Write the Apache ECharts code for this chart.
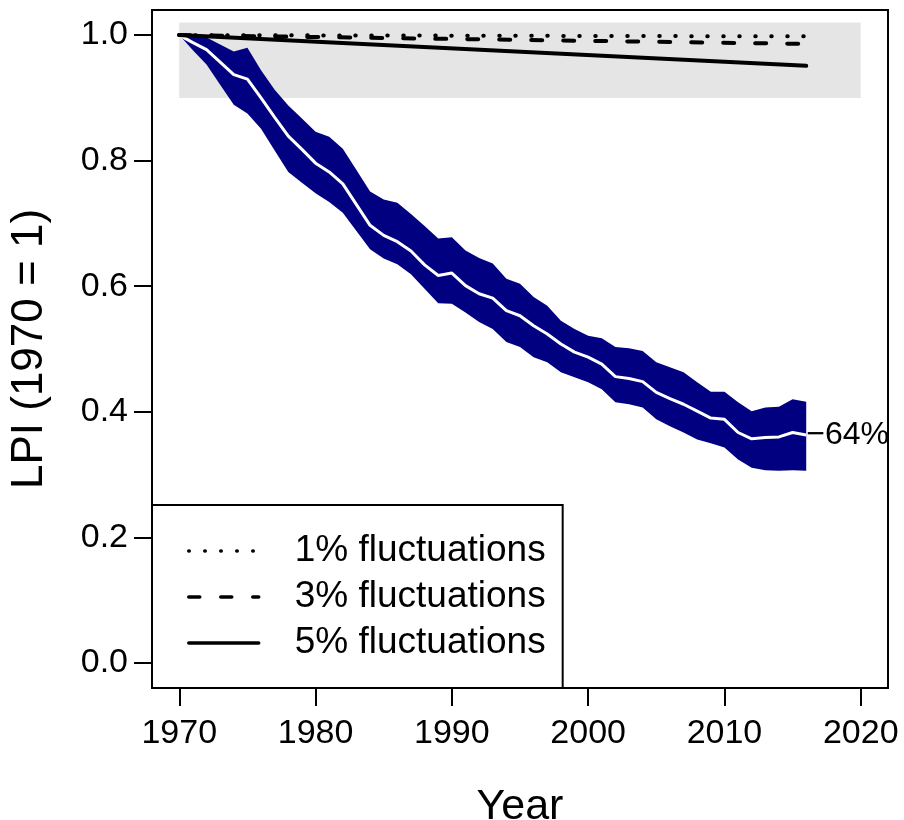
<!DOCTYPE html>
<html>
<head>
<meta charset="utf-8">
<script src="https://cdn.jsdelivr.net/npm/echarts@6/dist/echarts.min.js"></script>
<style>
  html, body { margin: 0; padding: 0; background: #ffffff; }
  #chart { width: 904px; height: 820px; }
</style>
</head>
<body>
<div id="chart"></div>
<script>
// Years of the Living Planet Index series
const years = [1970, 1971, 1972, 1973, 1974, 1975, 1976, 1977, 1978, 1979,
  1980, 1981, 1982, 1983, 1984, 1985, 1986, 1987, 1988, 1989,
  1990, 1991, 1992, 1993, 1994, 1995, 1996, 1997, 1998, 1999,
  2000, 2001, 2002, 2003, 2004, 2005, 2006, 2007, 2008, 2009,
  2010, 2011, 2012, 2013, 2014, 2015, 2016];

// Index value (1970 = 1)
const lpiMean = [1.000, 0.988, 0.977, 0.957, 0.937, 0.930, 0.900, 0.869, 0.839, 0.818,
  0.796, 0.782, 0.763, 0.730, 0.697, 0.681, 0.671, 0.656, 0.634, 0.617,
  0.621, 0.601, 0.588, 0.581, 0.561, 0.553, 0.537, 0.524, 0.508, 0.495,
  0.487, 0.476, 0.456, 0.453, 0.448, 0.431, 0.421, 0.412, 0.401, 0.390,
  0.388, 0.367, 0.357, 0.359, 0.360, 0.367, 0.363];

// Upper and lower confidence limits
const lpiUpper = [1.000, 0.998, 0.996, 0.985, 0.974, 0.980, 0.944, 0.913, 0.888, 0.867,
  0.846, 0.838, 0.819, 0.785, 0.751, 0.738, 0.733, 0.715, 0.696, 0.676,
  0.678, 0.657, 0.645, 0.636, 0.612, 0.604, 0.583, 0.569, 0.545, 0.532,
  0.521, 0.517, 0.503, 0.501, 0.497, 0.479, 0.471, 0.463, 0.447, 0.432,
  0.432, 0.415, 0.401, 0.407, 0.408, 0.420, 0.416];

const lpiLower = [1.000, 0.976, 0.953, 0.921, 0.889, 0.875, 0.851, 0.816, 0.782, 0.765,
  0.748, 0.734, 0.717, 0.688, 0.659, 0.644, 0.635, 0.619, 0.596, 0.573,
  0.572, 0.558, 0.543, 0.532, 0.511, 0.503, 0.487, 0.479, 0.463, 0.455,
  0.447, 0.436, 0.415, 0.412, 0.407, 0.388, 0.377, 0.367, 0.356, 0.350,
  0.343, 0.324, 0.311, 0.307, 0.306, 0.307, 0.306];

// Expected index under pure fluctuation (no real decline), start and end years
const nullYears = [1970, 2016];
const fluct1 = [1.000, 0.998];
const fluct3 = [1.000, 0.986];
const fluct5 = [1.000, 0.951];

// Shaded reference zone
const zoneYears = [1970, 2020];
const zoneValues = [0.9, 1.02];

// Axis ticks
const xTicks = [1970, 1980, 1990, 2000, 2010, 2020];
const yTicks = [0.0, 0.2, 0.4, 0.6, 0.8, 1.0];

const FONT = 'Liberation Sans, Arial, Helvetica, sans-serif';

const pairs = (xs, ys) => xs.map((x, i) => [x, ys[i]]);

const chart = echarts.init(document.getElementById('chart'), null, { renderer: 'canvas' });

chart.setOption({
  animation: false,
  backgroundColor: '#ffffff',
  textStyle: { fontFamily: FONT, color: '#000' },
  grid: {
    left: 152, right: 16, top: 10, bottom: 132,
    outerBoundsMode: 'none',
    containLabel: false,
    show: true, borderColor: '#000', borderWidth: 2, backgroundColor: 'transparent'
  },
  xAxis: {
    type: 'value',
    min: 1968, max: 2022,
    name: 'Year',
    nameLocation: 'middle',
    nameGap: 98,
    nameTextStyle: { fontSize: 43, color: '#000', fontFamily: FONT },
    axisLine: { show: false, onZero: false },
    splitLine: { show: false },
    axisTick: { show: true, customValues: xTicks, length: 18, inside: false,
      lineStyle: { color: '#000', width: 2 } },
    axisLabel: { show: true, customValues: xTicks, fontSize: 34, color: '#000',
      fontFamily: FONT, margin: 29, formatter: v => String(v) }
  },
  yAxis: {
    type: 'value',
    min: -0.04, max: 1.04,
    name: 'LPI (1970 = 1)',
    nameLocation: 'middle',
    nameGap: 100,
    nameRotate: 90,
    nameTextStyle: { fontSize: 44, color: '#000', fontFamily: FONT },
    axisLine: { show: false, onZero: false },
    splitLine: { show: false },
    axisTick: { show: true, customValues: yTicks, length: 18, inside: false,
      lineStyle: { color: '#000', width: 2 } },
    axisLabel: { show: true, customValues: yTicks, fontSize: 34, color: '#000',
      fontFamily: FONT, margin: 24, formatter: v => v.toFixed(1) }
  },
  legend: {
    show: true,
    orient: 'vertical',
    left: 152, top: 505,
    padding: [27, 17, 26, 35],
    itemWidth: 70,
    itemHeight: 14,
    itemGap: 8,
    borderColor: '#000',
    borderWidth: 2,
    backgroundColor: '#ffffff',
    itemStyle: { opacity: 0 },
    lineStyle: { width: 3.5 },
    data: ['1% fluctuations', '3% fluctuations', '5% fluctuations'],
    textStyle: { fontSize: 37, color: '#000', fontFamily: FONT, lineHeight: 38,
      padding: [0, 0, 0, 31] }
  },
  series: [
    {
      // grey reference zone
      name: 'zone',
      type: 'line',
      data: [],
      silent: true,
      z: 1,
      markArea: {
        silent: true,
        itemStyle: { color: '#e5e5e5' },
        data: [[
          { coord: [zoneYears[0], zoneValues[0]] },
          { coord: [zoneYears[1], zoneValues[1]] }
        ]]
      }
    },
    {
      // confidence band polygon
      name: 'band',
      type: 'custom',
      z: 2,
      silent: true,
      data: [0],
      renderItem: function (params, api) {
        const pts = [];
        for (let i = 0; i < years.length; i++) pts.push(api.coord([years[i], lpiUpper[i]]));
        for (let i = years.length - 1; i >= 0; i--) pts.push(api.coord([years[i], lpiLower[i]]));
        return {
          type: 'polygon',
          shape: { points: pts },
          style: { fill: '#000080', stroke: null }
        };
      }
    },
    {
      name: 'LPI',
      type: 'line',
      z: 3,
      symbol: 'none',
      silent: true,
      data: pairs(years, lpiMean),
      lineStyle: { color: '#ffffff', width: 3 },
      endLabel: {
        show: true,
        distance: 0,
        fontSize: 32,
        color: '#000',
        fontFamily: FONT,
        formatter: p => '\u2212' + Math.round((1 - p.value[1]) * 100) + '%'
      }
    },
    {
      name: '1% fluctuations',
      type: 'line',
      z: 4,
      symbol: 'none',
      silent: true,
      color: '#000',
      data: pairs(nullYears, fluct1),
      lineStyle: { color: '#000', width: 4, type: [0.5, 15.5], cap: 'round' }
    },
    {
      name: '3% fluctuations',
      type: 'line',
      z: 4,
      symbol: 'none',
      silent: true,
      color: '#000',
      data: pairs(nullYears, fluct3),
      lineStyle: { color: '#000', width: 4, type: [11, 21], cap: 'round' }
    },
    {
      name: '5% fluctuations',
      type: 'line',
      z: 4,
      symbol: 'none',
      silent: true,
      color: '#000',
      data: pairs(nullYears, fluct5),
      lineStyle: { color: '#000', width: 4, type: 'solid', cap: 'round' }
    }
  ]
});
</script>
</body>
</html>
